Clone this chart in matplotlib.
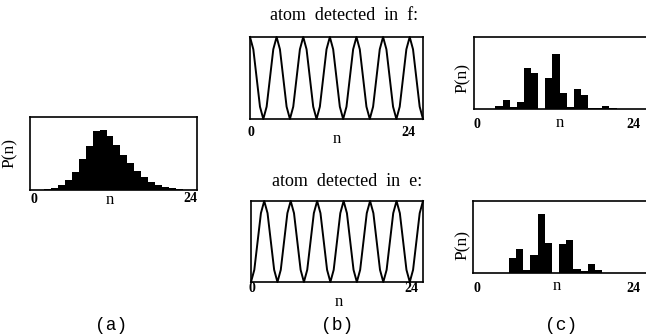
import matplotlib
matplotlib.use("Agg")
import matplotlib.pyplot as plt

W, H = 646, 335

# ---------------- data ----------------
# (a) photon number distribution (relative heights)
a_n = [1, 2, 3, 4, 5, 6, 7, 8, 9, 10, 11, 12, 13, 14, 15, 16, 17, 18, 19, 20, 21, 22]
a_p = [0.3, 0.8, 2.3, 5, 10, 18, 31, 44, 59, 60, 54, 45, 35, 27, 19, 13, 8.5, 5.5, 3.3, 2.2, 1.2, 0.5]

# (b) conditional probability curves sampled every 0.5 in n
b_n = [0, 0.5, 1, 1.5, 2, 2.5, 3, 3.5, 4, 4.5, 5, 5.5, 6, 6.5, 7, 7.5, 8, 8.5, 9, 9.5,
       10, 10.5, 11, 11.5, 12, 12.5, 13, 13.5, 14, 14.5, 15, 15.5, 16, 16.5, 17, 17.5,
       18, 18.5, 19, 19.5, 20, 20.5, 21, 21.5, 22, 22.5, 23, 23.5, 24, 24.5, 25, 25.5, 26]
b_f = [1, .85, .5, .15, 0, .15, .5, .85, 1, .85, .5, .15, 0, .15, .5, .85,
       1, .85, .5, .15, 0, .15, .5, .85, 1, .85, .5, .15, 0, .15, .5, .85,
       1, .85, .5, .15, 0, .15, .5, .85, 1, .85, .5, .15, 0, .15, .5, .85,
       1, .85, .5, .15, 0]
b_e = [0, .15, .5, .85, 1, .85, .5, .15, 0, .15, .5, .85, 1, .85, .5, .15,
       0, .15, .5, .85, 1, .85, .5, .15, 0, .15, .5, .85, 1, .85, .5, .15,
       0, .15, .5, .85, 1, .85, .5, .15, 0, .15, .5, .85, 1, .85, .5, .15,
       0, .15, .5, .85, 1]

# (c) measured distributions after detection
c_n = [0, 1, 2, 3, 4, 5, 6, 7, 8, 9, 10, 11, 12, 13, 14, 15, 16, 17, 18, 19, 20]
c_f = [0.3, 0.3, 0.3, 2.7, 8.7, 2, 6.7, 41, 36, 0, 30.7, 55, 16, 1.7, 20, 14.3, 0.7, 1, 2.7, 0.7, 0]
c_e = [0.3, 0.3, 0.3, 0.3, 0.5, 15.3, 24, 2.7, 18, 59, 30, 0, 29, 32.7, 4.3, 1.7, 8.7, 3.3, 0.5, 0, 0]

titles = ["atom  detected  in  f:", "atom  detected  in  e:"]
panel_labels = ["(a)", "(b)", "(c)"]

SERIF = "Liberation Serif"
MONO = "Liberation Mono"

fig = plt.figure(figsize=(W / 100, H / 100), dpi=100)


def add_ax(l, t, r, b):
    ax = fig.add_axes([l / W, 1 - b / H, (r - l) / W, (b - t) / H])
    ax.set_xticks([])
    ax.set_yticks([])
    for s in ax.spines.values():
        s.set_linewidth(1.2)
        s.set_color("black")
    return ax


def txt(x, y, s, size=10, family=SERIF, weight="normal", rot=0):
    fig.text(x / W, 1 - y / H, s, ha="center", va="center", fontsize=size,
             family=family, weight=weight, rotation=rot)


# (a)
ax = add_ax(30, 117, 197, 190)
ax.bar(a_n, a_p, width=1.0, align="edge", color="black", linewidth=0)
ax.set_xlim(0, 24)
ax.set_ylim(0, 73)
txt(34, 200, "0", 10, weight="bold")
txt(190, 199, "24", 10, weight="bold")
txt(110, 200, "n", 12)
txt(10, 153, "P(n)", 12.5, rot=90)

# (b) top
ax = add_ax(250, 37, 423, 119)
ax.plot(b_n, b_f, color="black", lw=1.4, clip_on=False)
ax.set_xlim(0, 26)
ax.set_ylim(0, 1)
txt(251, 133, "0", 10, weight="bold")
txt(408, 133, "24", 10, weight="bold")
txt(337, 139, "n", 12)
txt(344, 15, titles[0], 13)

# (b) bottom
ax = add_ax(251, 201, 423, 282)
ax.plot(b_n, b_e, color="black", lw=1.4, clip_on=False)
ax.set_xlim(0, 26)
ax.set_ylim(0, 1)
txt(252, 288, "0", 10, weight="bold")
txt(411, 288, "24", 10, weight="bold")
txt(339, 302, "n", 12)
txt(347, 181, titles[1], 13)

# (c) top
ax = add_ax(474, 37, 648, 109)
ax.bar(c_n, c_f, width=1.0, align="edge", color="black", linewidth=0)
ax.set_xlim(0, 24.4)
ax.set_ylim(0, 72)
txt(477, 124, "0", 10, weight="bold")
txt(633, 124, "24", 10, weight="bold")
txt(560, 123, "n", 12)
txt(463, 78, "P(n)", 12.5, rot=90)

# (c) bottom
ax = add_ax(473, 201, 648, 273)
ax.bar(c_n, c_e, width=1.0, align="edge", color="black", linewidth=0)
ax.set_xlim(0, 24.4)
ax.set_ylim(0, 72)
txt(477, 289, "0", 10, weight="bold")
txt(633, 289, "24", 10, weight="bold")
txt(557, 286, "n", 12)
txt(463, 245, "P(n)", 12.5, rot=90)

# panel labels
txt(111, 325, panel_labels[0], 13, family=MONO)
txt(337, 325, panel_labels[1], 13, family=MONO)
txt(561, 325, panel_labels[2], 13, family=MONO)

fig.savefig("out.png", dpi=100)
